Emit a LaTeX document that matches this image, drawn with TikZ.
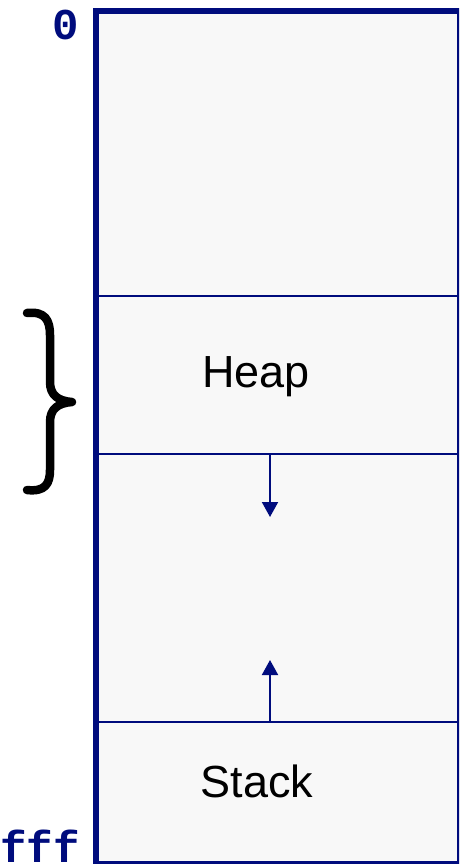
\documentclass[tikz,border=0pt]{standalone}
\usepackage{fontspec}
\setmainfont{Liberation Sans}
\newfontfamily\addrfont{Liberation Mono}
\usetikzlibrary{arrows.meta}
\definecolor{memline}{RGB}{0,12,125}
\definecolor{memfill}{RGB}{248,248,248}
\begin{document}
\begin{tikzpicture}[x=1pt,y=-1pt,
  divider/.style={draw=memline,line width=2pt},
  growth/.style={draw=memline,line width=2pt,-{Triangle[width=16pt,length=15pt]}},
  segtext/.style={inner sep=0pt,anchor=base,font=\fontsize{45}{54}\selectfont},
  addrtext/.style={inner sep=0pt,text=memline,font=\addrfont\bfseries\fontsize{44}{52}\selectfont}]
\useasboundingbox (0,0) rectangle (459,864);
\clip (0,0) rectangle (459,864);

% address space column
\fill[memfill] (96,11) rectangle (460,864);
\draw[divider] (96,296) -- (459,296);
\draw[divider] (96,454) -- (459,454);
\draw[divider] (96,722) -- (459,722);
\draw[memline,line width=6pt] (96,11) rectangle (460,864);

% segment names
\node[segtext] (heap) at (256,387) {Heap};
\node[segtext] (stack) at (257,797) {Stack};

% growth directions
\coordinate (heapend) at (270,454);
\coordinate (heapgrow) at (270,517);
\coordinate (stackend) at (270,722);
\coordinate (stackgrow) at (270,660);
\draw[growth] (heapend) -- (heapgrow);
\draw[growth] (stackend) -- (stackgrow);

% addresses
\node[addrtext,anchor=base] (lowaddr) at (65.5,40) {0};
\node[addrtext,anchor=base east] (highaddr) at (80,862) {fff};

% brace beside the heap
\draw[black,line width=8.5pt,line cap=round,line join=round]
  (27,313) .. controls (45,311) and (50,320) .. (50,335) -- (50,382)
  .. controls (50,395) and (58,401) .. (72,402)
  .. controls (58,403) and (50,409) .. (50,422) -- (50,470)
  .. controls (50,484) and (45,492) .. (27,490);
\end{tikzpicture}
\end{document}
